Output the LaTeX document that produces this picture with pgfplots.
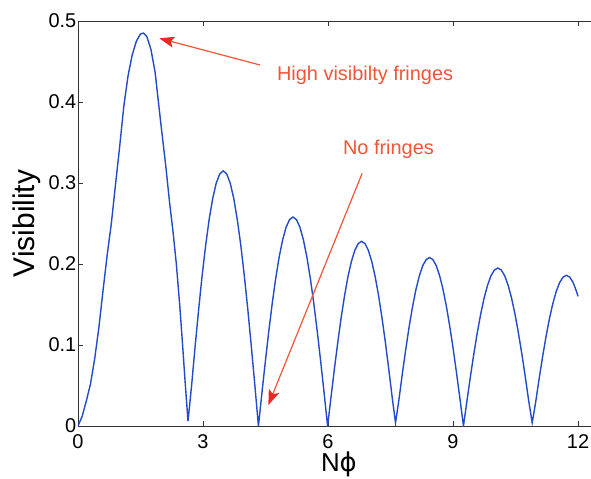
\documentclass[border=0pt]{standalone}
\usepackage{pgfplots}
\pgfplotsset{compat=1.18}
\usepackage{fontspec}
\setmainfont{Liberation Sans}
\newfontfamily\dejavu{DejaVu Sans}
\usetikzlibrary{arrows.meta}
\definecolor{curveblue}{RGB}{35,75,200}
\definecolor{annot}{RGB}{240,85,55}
\definecolor{headred}{RGB}{235,40,35}

\begin{document}
\begin{tikzpicture}
\useasboundingbox (-78bp,-53bp) rectangle (513bp,426bp);
\begin{axis}[
    at={(0,0)}, anchor=south west,
    scale only axis,
    width=516.7bp, height=405bp,
    xmin=0, xmax=12.4, ymin=0, ymax=0.5,
    xtick={0,3,6,9,12}, xticklabels={0,3,6,9,12},
    ytick={0,0.1,0.2,0.3,0.4,0.5}, yticklabels={0,0.1,0.2,0.3,0.4,0.5},
    ytick pos=left,
    tick align=inside, major tick length=5bp,
    axis line style={black!80, line width=0.8bp},
    tick style={black!80, line width=0.7bp},
    tick label style={font=\fontsize{20}{22}\selectfont, inner sep=1.5bp},
    xticklabel style={yshift=-6.5bp},
    xlabel={N{\dejavu ϕ}}, ylabel={Visibility},
    xlabel style={at={(axis description cs:0.505,-0.094)}, anchor=center, font=\fontsize{26}{28}\selectfont},
    ylabel style={at={(axis description cs:-0.0987,0.5)}, anchor=center, font=\fontsize{30}{32}\selectfont},
  ]
\addplot[curveblue, line width=1.4bp] coordinates {
(0,0) (0.1,0.012) (0.2,0.031) (0.3,0.052) (0.4,0.083) (0.5,0.121) (0.6,0.167)
(0.7,0.211) (0.8,0.250) (0.9,0.298) (1.0,0.345) (1.1,0.395) (1.2,0.432)
(1.3,0.458) (1.4,0.475) (1.5,0.484) (1.57,0.485) (1.65,0.481) (1.75,0.465)
(1.85,0.437) (1.93,0.400) (2.0,0.368) (2.1,0.324) (2.2,0.275) (2.28,0.240)
(2.36,0.200) (2.44,0.150) (2.51,0.100) (2.57,0.055) (2.64,0.006)
(2.725,0.0493) (2.809,0.0973) (2.894,0.1430) (2.978,0.1852) (3.063,0.2227)
(3.147,0.2548) (3.232,0.2807) (3.316,0.2996) (3.401,0.3111) (3.485,0.315)
(3.570,0.3111) (3.654,0.2996) (3.739,0.2807) (3.823,0.2548) (3.908,0.2227)
(3.992,0.1852) (4.077,0.1430) (4.161,0.0973) (4.246,0.0493) (4.330,0)
(4.413,0.0404) (4.496,0.0797) (4.579,0.1171) (4.662,0.1517) (4.745,0.1824)
(4.828,0.2087) (4.911,0.2299) (4.994,0.2454) (5.077,0.2548) (5.160,0.258)
(5.243,0.2548) (5.326,0.2454) (5.409,0.2299) (5.492,0.2087) (5.575,0.1824)
(5.658,0.1517) (5.741,0.1171) (5.824,0.0797) (5.907,0.0404) (5.990,0)
(6.072,0.0357) (6.153,0.0705) (6.235,0.1035) (6.316,0.1340) (6.398,0.1612)
(6.479,0.1845) (6.561,0.2031) (6.642,0.2168) (6.724,0.2252) (6.805,0.228)
(6.887,0.2252) (6.968,0.2168) (7.050,0.2031) (7.131,0.1845) (7.213,0.1612)
(7.294,0.1340) (7.376,0.1035) (7.457,0.0705) (7.539,0.0357) (7.620,0.004)
(7.702,0.0325) (7.783,0.0643) (7.865,0.0944) (7.946,0.1223) (8.028,0.1471)
(8.109,0.1683) (8.191,0.1853) (8.272,0.1978) (8.354,0.2054) (8.435,0.208)
(8.517,0.2054) (8.598,0.1978) (8.680,0.1853) (8.761,0.1683) (8.843,0.1471)
(8.924,0.1223) (9.006,0.0944) (9.087,0.0643) (9.169,0.0325) (9.250,0)
(9.333,0.0305) (9.415,0.0603) (9.498,0.0885) (9.580,0.1146) (9.663,0.1379)
(9.745,0.1578) (9.828,0.1737) (9.910,0.1854) (9.993,0.1926) (10.075,0.195)
(10.158,0.1926) (10.240,0.1854) (10.323,0.1737) (10.405,0.1578) (10.488,0.1379)
(10.570,0.1146) (10.653,0.0885) (10.735,0.0603) (10.818,0.0305) (10.900,0.004)
(10.982,0.0291) (11.064,0.0575) (11.146,0.0844) (11.228,0.1093) (11.310,0.1315)
(11.392,0.1505) (11.474,0.1657) (11.556,0.1769) (11.638,0.1837) (11.720,0.186)
(11.802,0.1837) (11.884,0.1769) (11.966,0.1657) (12.0,0.160)
};
% annotations
\node[annot, font=\fontsize{20}{22}\selectfont, anchor=center] at (axis cs:6.89,0.433) {High visibilty fringes};
\node[annot, font=\fontsize{20}{22}\selectfont, anchor=center] at (axis cs:7.45,0.342) {No fringes};
\draw[annot, line width=1.2bp, -{Stealth[length=15bp, width=11bp, inset=3bp, fill=headred, color=headred]}]
  (axis cs:4.368,0.4457) -- (axis cs:1.951,0.4786);
\draw[annot, line width=1.2bp, -{Stealth[length=15bp, width=11bp, inset=3bp, fill=headred, color=headred]}]
  (axis cs:6.82,0.312) -- (axis cs:4.568,0.0259);
\end{axis}
\end{tikzpicture}
\end{document}
